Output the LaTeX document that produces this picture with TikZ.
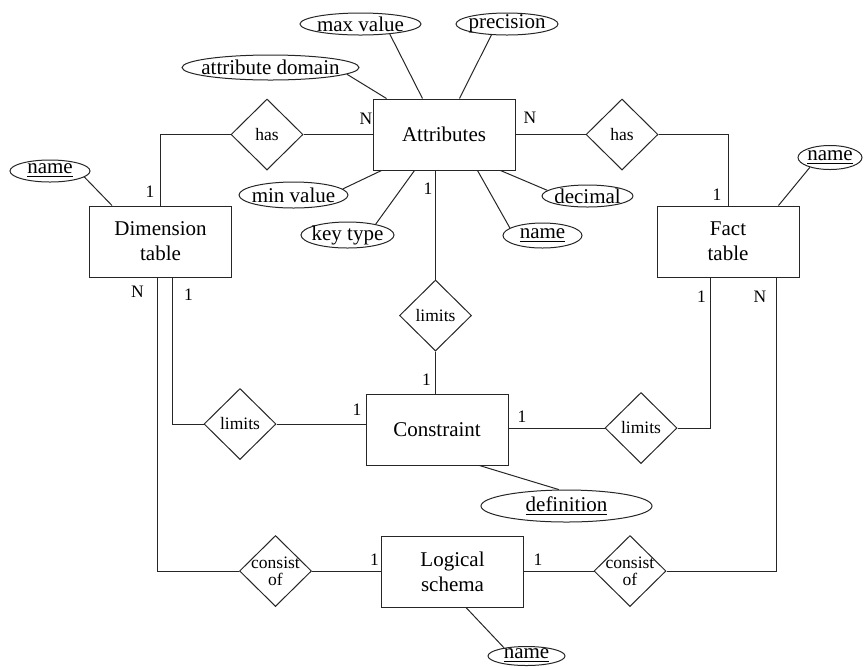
\documentclass[tikz,border=0pt]{standalone}
\usepackage{fontspec}
\setmainfont{Liberation Serif}
\usetikzlibrary{shapes.geometric}
\begin{document}
\begin{tikzpicture}[x=0.5pt,y=-0.5pt,line width=0.5pt,
  entity/.style={draw=black!85, rectangle, minimum width=71pt, minimum height=35.5pt,
    inner sep=0pt, align=center, font=\fontsize{10.5}{12.5}\selectfont},
  rel/.style={draw=black!85, diamond, minimum width=36pt, minimum height=35.5pt,
    inner sep=0pt, align=center, font=\fontsize{8.75}{8.5}\selectfont},
  attrib/.style={draw=black!85, ellipse, inner xsep=-20pt, inner ysep=-6pt,
    font=\fontsize{10.5}{12}\selectfont},
  card/.style={inner sep=0pt, font=\fontsize{8.75}{10}\selectfont},
  link/.style={draw=black!85}]
\path[use as bounding box] (0,0) rectangle (867,666);

% entities
\node[entity] (attr) at (444,134.5) {Attributes};
\node[entity] (dim)  at (160.5,241.5) {Dimension\\table};
\node[entity] (fact) at (728,241.5) {Fact\\table};
\node[entity] (con)  at (437,429.5) {Constraint};
\node[entity] (log)  at (452.5,571.5) {Logical\\schema};

% relationships
\node[rel] (has1) at (267,134.5) {has};
\node[rel] (has2) at (622,134.5) {has};
\node[rel] (lim1) at (435.5,315.5) {limits};
\node[rel] (lim2) at (240,424) {limits};
\node[rel] (lim3) at (641,428) {limits};
\node[rel,inner sep=-4pt] (cons1) at (275.5,571) {consist\\of};
\node[rel,inner sep=-4pt] (cons2) at (630,571) {consist\\of};

% attributes
\node[attrib, minimum width=88.5pt, minimum height=12.5pt] (adom) at (270.5,67.5) {attribute domain};
\node[attrib, minimum width=60.5pt, minimum height=11pt] (maxv) at (360.5,24) {max value};
\node[attrib, minimum width=51pt, minimum height=11pt] (prec) at (507,24) {precision};
\node[attrib, minimum width=54.5pt, minimum height=13pt] (minv) at (293.5,195) {min value};
\node[attrib, minimum width=46.5pt, minimum height=13pt] (keyt) at (347.5,235) {key type};
\node[attrib, minimum width=39.5pt, minimum height=12.5pt] (aname) at (542.5,235.5) {\underline{name}};
\node[attrib, minimum width=45.5pt, minimum height=11pt] (deci) at (587.5,196) {decimal};
\node[attrib, minimum width=40pt, minimum height=11pt] (dname) at (50,171) {\underline{name}};
\node[attrib, minimum width=32pt, minimum height=12pt] (fname) at (830,157.5) {\underline{name}};
\node[attrib, minimum width=85.5pt, minimum height=16pt] (defn) at (566.5,506) {\underline{definition}};
\node[attrib, minimum width=38.5pt, minimum height=9.5pt] (lname) at (526.5,656) {\underline{name}};

% relationship connectors
\draw[link] (dim.north) |- (has1.west);
\draw[link] (has1.east) -- (attr.west);
\draw[link] (attr.east) -- (has2.west);
\draw[link] (has2.east) -| (fact.north);
\draw[link] (lim1.north |- attr.south) -- (lim1.north);
\draw[link] (lim1.south) -- (lim1.south |- con.north);
\draw[link] ([xshift=5.75pt]dim.south) |- (lim2.west);
\draw[link] (lim2.east) -- (lim2.east -| con.west);
\draw[link] (con.east |- lim3.west) -- (lim3.west);
\draw[link] (lim3.east) -| ([xshift=-9pt]fact.south);
\draw[link] ([xshift=-1.75pt]dim.south) |- (cons1.west);
\draw[link] (cons1.east) -- (cons1.east -| log.west);
\draw[link] (log.east |- cons2.west) -- (cons2.west);
\draw[link] (cons2.east) -| ([xshift=24pt]fact.south);

% attribute connectors
\draw[link] (adom.-5) -- ([xshift=7pt]attr.north west);
\draw[link] (maxv.-19) -- ([xshift=25pt]attr.north west);
\draw[link] (prec.-145) -- ([xshift=43.5pt]attr.north west);
\draw[link] (minv.7) -- ([xshift=4.5pt]attr.south west);
\draw[link] (keyt.21) -- ([xshift=21pt]attr.south west);
\draw[link] (aname.167) -- ([xshift=-19pt]attr.south east);
\draw[link] (deci.172) -- ([xshift=-7.5pt]attr.south east);
\draw[link] (dname.-10) -- ([xshift=11.5pt]dim.north west);
\draw[link] (fname.-154) -- ([xshift=-10.5pt]fact.north east);
\draw[link] (defn.115) -- ([xshift=57pt]con.south west);
\draw[link] (lname.160) -- ([xshift=42.5pt]log.south west);

% cardinalities
\node[card] (c1) at (366,119) {N};
\node[card] (c2) at (530,117.5) {N};
\node[card] (c3) at (150,191.5) {1};
\node[card] (c4) at (717,195) {1};
\node[card] (c5) at (428,188.5) {1};
\node[card] (c6) at (137.5,291.5) {N};
\node[card] (c7) at (188.5,295) {1};
\node[card] (c8) at (426.5,380) {1};
\node[card] (c9) at (357,410) {1};
\node[card] (c10) at (522,417) {1};
\node[card] (c11) at (701.5,297) {1};
\node[card] (c12) at (760,297) {N};
\node[card] (c13) at (374.5,560) {1};
\node[card] (c14) at (538,560) {1};
\end{tikzpicture}
\end{document}
